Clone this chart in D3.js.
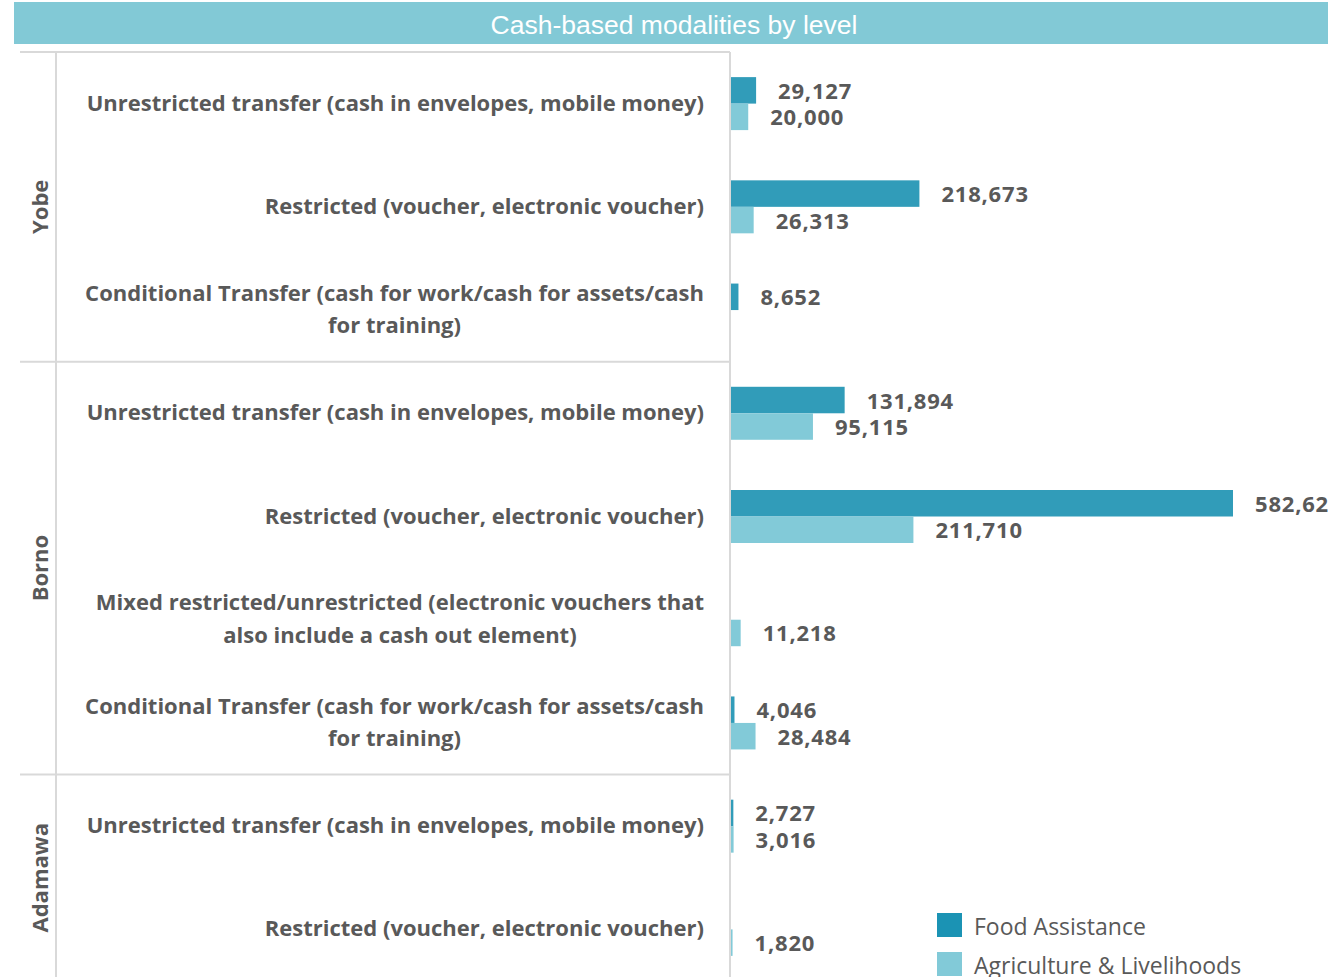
<!DOCTYPE html>
<html><head><meta charset="utf-8">
<script src="https://cdn.jsdelivr.net/npm/d3@7"></script>
<style>
html,body{margin:0;padding:0;background:#fff;overflow:hidden;}
svg{display:block;}
</style></head>
<body>
<script>
const title = "Cash-based modalities by level";
const groups = ["Yobe", "Borno", "Adamawa"];
const groupSizes = [3, 4, 2];
const modalities = [
  ["Unrestricted transfer (cash in envelopes, mobile money)"],
  ["Restricted (voucher, electronic voucher)"],
  ["Conditional Transfer (cash for work/cash for assets/cash", "for training)"],
  ["Unrestricted transfer (cash in envelopes, mobile money)"],
  ["Restricted (voucher, electronic voucher)"],
  ["Mixed restricted/unrestricted (electronic vouchers that", "also include a cash out element)"],
  ["Conditional Transfer (cash for work/cash for assets/cash", "for training)"],
  ["Unrestricted transfer (cash in envelopes, mobile money)"],
  ["Restricted (voucher, electronic voucher)"]
];
const seriesNames = ["Food Assistance", "Agriculture & Livelihoods"];
const foodAssistance = [29127, 218673, 8652, 131894, 582620, 0, 4046, 2727, 0];
const agricultureLivelihoods = [20000, 26313, 0, 95115, 211710, 11218, 28484, 3016, 1820];

const W = 1328, H = 977;
const barColors = ["#319cb9", "#82cad8"];
const legendColors = ["#1b93b4", "#82cad8"];
const textColor = "#595959";
const lineColor = "#d9d9d9";
const font = "'Open Sans', sans-serif";
const fs = 22;

const svg = d3.select("body").append("svg").attr("width", W).attr("height", H);

// Title bar
svg.append("rect").attr("x", 14).attr("y", 2).attr("width", W - 14).attr("height", 42).attr("fill", "#82c9d6");
svg.append("text").attr("x", 674).attr("y", 25).attr("text-anchor", "middle").attr("dominant-baseline", "central")
  .attr("fill", "#fff").attr("font-family", "'Liberation Sans', Arial, sans-serif").attr("font-size", 26.5).text(title);

const plotTop = 52, plotBottom = 981, axisX = 731;
const idx = d3.range(modalities.length);
const y0 = d3.scaleBand().domain(idx).range([plotTop, plotBottom]).padding(0);
const y1 = d3.scaleBand().domain([0, 1]).range([0, y0.bandwidth()]).paddingInner(0).paddingOuter(0.948);
const x = d3.scaleLinear().domain([0, 582620]).range([axisX, 1233]);

const values = [foodAssistance, agricultureLivelihoods];

// grid / structure lines
const g = svg.append("g");
let acc = 0;
const bounds = [0];
groupSizes.forEach(s => { acc += s; bounds.push(acc); });
bounds.slice(0, -1).forEach(b => {
  const yy = y0(b);
  g.append("line").attr("x1", 20).attr("x2", 730).attr("y1", yy).attr("y2", yy)
    .attr("stroke", lineColor).attr("stroke-width", 2);
});
g.append("line").attr("x1", 56).attr("x2", 56).attr("y1", plotTop - 1).attr("y2", H)
  .attr("stroke", lineColor).attr("stroke-width", 2);

// bars
values.forEach((arr, si) => {
  svg.append("g").selectAll("rect").data(idx.filter(i => arr[i] > 0)).join("rect")
    .attr("x", axisX)
    .attr("y", i => y0(i) + y1(si))
    .attr("width", i => x(arr[i]) - axisX)
    .attr("height", y1.bandwidth())
    .attr("fill", barColors[si]);
  svg.append("g").selectAll("text").data(idx.filter(i => arr[i] > 0)).join("text")
    .attr("x", i => x(arr[i]) + 22)
    .attr("y", i => y0(i) + y1(si) + y1.bandwidth() / 2 - 0.5)
    .attr("dominant-baseline", "central")
    .attr("font-family", font).attr("font-weight", "bold").attr("font-size", fs)
    .attr("letter-spacing", 0.8)
    .attr("fill", textColor)
    .text(i => d3.format(",")(arr[i]));
});

// axis line
svg.append("line").attr("x1", 730).attr("x2", 730).attr("y1", plotTop).attr("y2", H)
  .attr("stroke", lineColor).attr("stroke-width", 2);

// category labels
const lh = 32.5;
idx.forEach(i => {
  const lines = modalities[i];
  const cy = y0(i) + y0.bandwidth() / 2 - 2;
  const t = svg.append("text").attr("font-family", font).attr("font-weight", "bold").attr("font-size", fs)
    .attr("fill", textColor);
  if (lines.length === 1) {
    t.attr("x", 704).attr("y", cy).attr("text-anchor", "end").attr("dominant-baseline", "central").text(lines[0]);
  } else {
    const tmp = svg.append("text").attr("font-family", font).attr("font-weight", "bold").attr("font-size", fs).text(lines[0]);
    const w = tmp.node().getComputedTextLength();
    tmp.remove();
    const cx = 704 - w / 2;
    lines.forEach((ln, k) => {
      t.append("tspan").attr("x", cx).attr("y", cy + (k - (lines.length - 1) / 2) * lh)
        .attr("text-anchor", "middle").attr("dominant-baseline", "central").text(ln);
    });
  }
});

// group labels
groups.forEach((gname, gi) => {
  const cy = (y0(bounds[gi]) + (bounds[gi + 1] < modalities.length ? y0(bounds[gi + 1]) : plotBottom)) / 2;
  svg.append("text").attr("transform", `translate(39,${cy}) rotate(-90)`)
    .attr("text-anchor", "middle").attr("dominant-baseline", "central")
    .attr("font-family", font).attr("font-weight", "bold").attr("font-size", fs)
    .attr("fill", textColor).text(gname);
});

// legend
const leg = svg.append("g");
seriesNames.forEach((n, k) => {
  const yy = 913 + k * 39;
  leg.append("rect").attr("x", 937).attr("y", yy).attr("width", 25).attr("height", 24).attr("fill", legendColors[k]);
  leg.append("text").attr("x", 974).attr("y", yy + 13).attr("dominant-baseline", "central")
    .attr("font-family", font).attr("font-size", 23).attr("fill", textColor).text(n);
});
</script>
</body></html>
